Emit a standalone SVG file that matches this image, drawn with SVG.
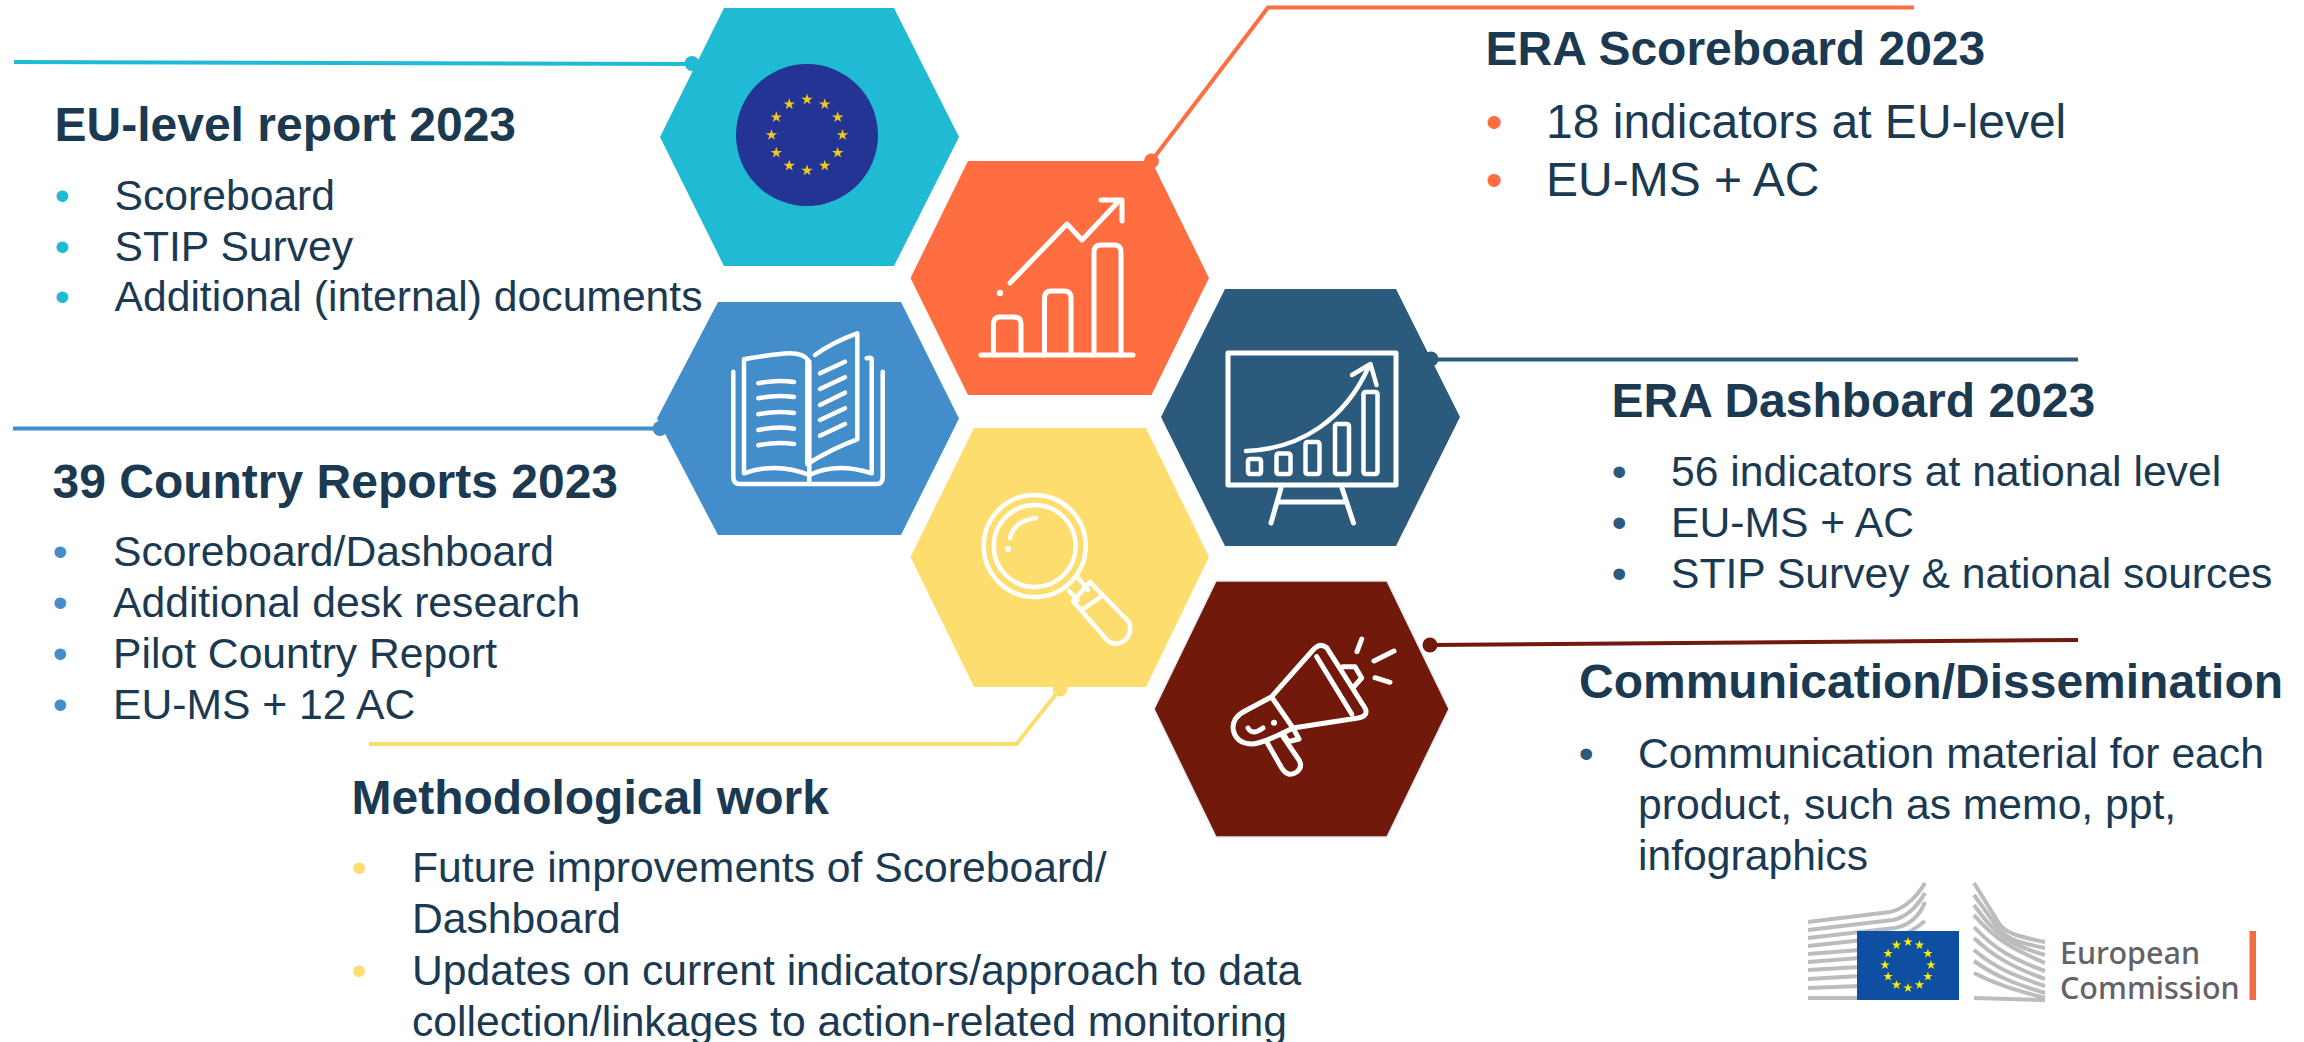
<svg xmlns="http://www.w3.org/2000/svg" width="2304" height="1042" viewBox="0 0 2304 1042">
<style>
text{font-family:"Liberation Sans",Arial,sans-serif;fill:#1b3a52}
.h{font-size:48px;font-weight:700}
.t{font-size:42.67px}
.l{font-size:48px}
.ln{fill:none;stroke-width:4}
.ic{fill:none;stroke:#fff;stroke-width:5;stroke-linecap:round;stroke-linejoin:round}
.ic2{fill:none;stroke:#fff;stroke-width:4.5;stroke-linecap:round;stroke-linejoin:round}
.w{fill:#fff}
.teal{fill:#20bad4}.orange{fill:#ff6e40}.navy{fill:#2b5a7d}.blue{fill:#448dcb}.yellow{fill:#fedd6f}.maroon{fill:#711a0b}
.sgrey{fill:none;stroke:#bbbcbe;stroke-width:4}
.ec{font-family:"Noto Sans","Open Sans",sans-serif;fill:#626366;font-size:30.5px;font-weight:500}
</style>
<defs>
<polygon id="s" points="0,-6 1.35,-1.86 5.71,-1.85 2.19,.71 3.53,4.85 0,2.3 -3.53,4.85 -2.19,.71 -5.71,-1.85 -1.35,-1.86"/>
<polygon id="s2" points="0,-5 1.12,-1.55 4.76,-1.54 1.82,.59 2.94,4.04 0,1.92 -2.94,4.04 -1.82,.59 -4.76,-1.54 -1.12,-1.55"/>
</defs>
<rect width="2304" height="1042" fill="#fff"/>

<g id="node-eu-report">
<polygon class="teal" points="724,8 894,8 959,137 894,266 724,266 660,137"/>
<circle cx="807" cy="135" r="71" fill="#233494"/>
<g fill="#f3c81c">
<use href="#s" x="807" y="99.5"/><use href="#s" x="824.75" y="104.3"/><use href="#s" x="837.7" y="117.25"/><use href="#s" x="842.5" y="135"/><use href="#s" x="837.7" y="152.75"/><use href="#s" x="824.75" y="165.7"/><use href="#s" x="807" y="170.5"/><use href="#s" x="789.25" y="165.7"/><use href="#s" x="776.3" y="152.75"/><use href="#s" x="771.5" y="135"/><use href="#s" x="776.3" y="117.25"/><use href="#s" x="789.25" y="104.3"/>
</g>
<text class="h" x="54.5" y="141">EU-level report 2023</text>
<text class="t teal" x="54.7" y="209.5">•</text><text class="t" x="114.5" y="209.5">Scoreboard</text>
<text class="t teal" x="54.7" y="260.5">•</text><text class="t" x="114.5" y="260.5">STIP Survey</text>
<text class="t teal" x="54.7" y="311">•</text><text class="t" x="114.5" y="311">Additional (internal) documents</text>
</g>

<g id="node-scoreboard">
<polygon class="orange" points="968,161 1151.5,161 1209,278 1151.5,395 968,395 910.5,278"/>
<g class="ic">
<path d="M981,355H1133"/>
<path d="M993.5,355V324Q993.5,317 1000,317H1014Q1021,317 1021,324V355"/>
<path d="M1044.5,355V298Q1044.5,291 1051,291H1064Q1071,291 1071,298V355"/>
<path d="M1094,355V252Q1094,245 1101,245H1114Q1121,245 1121,252V355"/>
<path d="M1010,283L1067,224L1082,240L1119,201"/>
<path d="M1101,200H1122V221"/>
</g>
<circle class="w" cx="1000" cy="293" r="3.2"/>
<text class="h" x="1485.5" y="65">ERA Scoreboard 2023</text>
<text class="l orange" x="1485.7" y="137.7">•</text><text class="l" x="1546" y="137.7">18 indicators at EU-level</text>
<text class="l orange" x="1485.7" y="195.5">•</text><text class="l" x="1546" y="195.5">EU-MS + AC</text>
</g>

<g id="node-dashboard">
<polygon class="navy" points="1225,289 1396,289 1460,417 1396,546 1225,546 1161,417"/>
<g class="ic">
<rect x="1228" y="353" width="168" height="132"/>
<path d="M1281,488L1271,523M1342,488L1353.5,523M1278,502H1345"/>
</g>
<g class="ic2">
<rect x="1248" y="459" width="13" height="15" rx="2"/>
<rect x="1276.5" y="453.5" width="14" height="20.5" rx="2"/>
<rect x="1305.5" y="442" width="14" height="32" rx="2"/>
<rect x="1335" y="424" width="14" height="50" rx="2"/>
<rect x="1363.5" y="392" width="14" height="82" rx="2"/>
<path d="M1246,451C1300,449 1345,420 1369,366"/>
<path d="M1352,375L1370.5,364L1376.5,385"/>
</g>
<text class="h" x="1611.5" y="417">ERA Dashboard 2023</text>
<text class="t navy" x="1611.7" y="485.7">•</text><text class="t" x="1671" y="485.7">56 indicators at national level</text>
<text class="t navy" x="1611.7" y="536.7">•</text><text class="t" x="1671" y="536.7">EU-MS + AC</text>
<text class="t navy" x="1611.7" y="587.7">•</text><text class="t" x="1671" y="587.7">STIP Survey &amp; national sources</text>
</g>

<g id="node-country-reports">
<polygon class="blue" points="718,302 901,302 959,418.5 901,535 718,535 657,418.5"/>
<g class="ic2">
<path d="M733.3,371.7V476.7Q733.3,484 740,484H876.7Q882.7,484 882.7,476.7V371.7"/>
<path d="M744,473.3V359.3Q762,356 780,354Q803,351 809.3,361.7V475M744,473.3Q776.7,461.7 809.3,475Q836.7,461.7 871.7,473.3V359.3Q871.7,357 866.7,358.3"/>
<path d="M809.3,475V484"/>
<path d="M815,355Q833.3,341.7 857.3,333.3V439.3Q833,448 807.3,464V361"/>
<path d="M758.3,383.3Q776.7,379.3 794,382M758.3,398.3Q776.7,394.3 794,397M758.3,414.3Q776.7,410.3 794,413M758.3,430Q776.7,426 794,428.7M758.3,445.3Q776.7,441.3 794,444"/>
<path d="M820,373.3L845,361.7M820,389L845,377.3M820,405L845,392.7M820,420L845,408.3M820,435.7L845,424"/>
</g>
<text class="h" x="52.5" y="498">39 Country Reports 2023</text>
<text class="t blue" x="52.7" y="566">•</text><text class="t" x="113" y="566">Scoreboard/Dashboard</text>
<text class="t blue" x="52.7" y="617">•</text><text class="t" x="113" y="617">Additional desk research</text>
<text class="t blue" x="52.7" y="668">•</text><text class="t" x="113" y="668">Pilot Country Report</text>
<text class="t blue" x="52.7" y="719">•</text><text class="t" x="113" y="719">EU-MS + 12 AC</text>
</g>

<g id="node-methodology">
<polygon class="yellow" points="974,428 1146,428 1209,557 1146,687 974,687 910.5,557"/>
<g class="ic2">
<circle cx="1034.7" cy="546" r="51"/>
<circle cx="1034.7" cy="546" r="41"/>
<path d="M1010,538Q1014,521 1036,518"/>
<path d="M1079,579L1088,590M1069,591L1078,600"/>
<path d="M1090,582L1129,622Q1133,634 1124,641Q1115,647 1107,640L1073,601Z"/>
<path d="M1082,610L1100.5,597"/>
</g>
<circle class="w" cx="1008" cy="549" r="3"/>
<text class="h" x="351.5" y="814">Methodological work</text>
<text class="t yellow" x="351.7" y="881.7">•</text><text class="t" x="412" y="881.7">Future improvements of Scoreboard/</text>
<text class="t" x="412" y="933">Dashboard</text>
<text class="t yellow" x="351.7" y="985">•</text><text class="t" x="412" y="985">Updates on current indicators/approach to data</text>
<text class="t" x="412" y="1036">collection/linkages to action-related monitoring</text>
</g>

<g id="node-communication">
<polygon class="maroon" stroke="#e4e9f5" stroke-width="1.5" points="1216,581 1387,581 1449,709 1387,837 1216,837 1154,709"/>
<g class="ic">
<path d="M1245,711L1271.7,696.7L1313,650Q1320,642 1326.7,647.7L1365,708Q1369,716 1358,718L1293,728"/>
<path d="M1316.7,656.7L1351.7,714"/>
<path d="M1342.7,666.7H1355L1361.7,678L1354,686.7"/>
<path d="M1245,711Q1233,717 1233,728Q1235,744 1253,744Q1262,743 1283,733"/>
<path d="M1273,699L1293,728L1299,739L1288,741.7L1283,733L1293,728"/>
<path d="M1266.7,741.7L1281.7,768Q1288,778 1296.7,772Q1303,767 1299,760L1283,736.7"/>
<path d="M1248,728Q1252,736 1263,728"/>
<path d="M1361.7,639L1357,651.7M1394,651L1374,661M1375,677.7L1390,682.3"/>
</g>
<circle class="w" cx="1274" cy="722.7" r="3"/>
<text class="h" x="1579" y="698">Communication/Dissemination</text>
<text class="t navy" x="1578.7" y="768">•</text><text class="t" x="1638" y="768">Communication material for each</text>
<text class="t" x="1638" y="819">product, such as memo, ppt,</text>
<text class="t" x="1638" y="870">infographics</text>
</g>

<g id="connectors">
<path class="ln" stroke="#20bad4" d="M14,62L692,64"/><circle class="teal" cx="692" cy="63.5" r="7.5"/>
<path class="ln" stroke="#ff6e40" d="M1151.5,161L1268,7.5H1914"/><circle class="orange" cx="1151.5" cy="161" r="7.5"/>
<path class="ln" stroke="#2b5a7d" d="M1431,359.5H2078"/><circle class="navy" cx="1431" cy="359" r="7.5"/>
<path class="ln" stroke="#448dcb" d="M13,428.5H660"/><circle class="blue" cx="660" cy="428.5" r="7.5"/>
<path class="ln" stroke="#fedd6f" d="M1060,689L1016.5,744H369"/><circle class="yellow" cx="1060" cy="689" r="7.5"/>
<path class="ln" stroke="#711a0b" d="M1430,645L2078,640"/><circle class="maroon" cx="1430" cy="645" r="7.5"/>
</g>

<g id="logo">
<path class="sgrey" d="M1808,922L1890,912C1905,909 1918,895 1925,883"/>
<path class="sgrey" d="M1808,930L1893,920C1908,917 1918,905 1925,893"/>
<path class="sgrey" d="M1808,938L1895,928C1910,925 1920,915 1925,902"/>
<path class="sgrey" d="M1808,946L1900,936C1912,932 1920,925 1925,921"/>
<path class="sgrey" d="M1808,954L1860,950M1808,962L1860,958M1808,970L1860,967M1808,979L1860,976M1808,988L1860,986M1808,998L1860,998"/>
<path class="sgrey" d="M1974,883L2000,925C2008,934 2020,937 2045,942"/>
<path class="sgrey" d="M1974,895L1998,928C2008,940 2020,943 2045,948"/>
<path class="sgrey" d="M1974,905C1995,935 2010,945 2045,955"/>
<path class="sgrey" d="M1974,915C1995,940 2015,950 2045,963"/>
<path class="sgrey" d="M1974,927C1995,950 2015,960 2045,971"/>
<path class="sgrey" d="M1974,938C1995,958 2015,968 2045,979"/>
<path class="sgrey" d="M1974,950C1995,968 2015,976 2045,986"/>
<path class="sgrey" d="M1974,961C1995,976 2015,984 2045,993"/>
<path class="sgrey" d="M1974,973C1995,984 2015,990 2045,998"/>
<path class="sgrey" d="M1974,998L2045,1000"/>
<rect x="1857" y="931" width="102" height="69" fill="#0f4fa2"/>
<g fill="#ffed00">
<use href="#s2" x="1908" y="942"/><use href="#s2" x="1919.5" y="945.1"/><use href="#s2" x="1927.9" y="953.5"/><use href="#s2" x="1931" y="965"/><use href="#s2" x="1927.9" y="976.5"/><use href="#s2" x="1919.5" y="984.9"/><use href="#s2" x="1908" y="988"/><use href="#s2" x="1896.5" y="984.9"/><use href="#s2" x="1888.1" y="976.5"/><use href="#s2" x="1885" y="965"/><use href="#s2" x="1888.1" y="953.5"/><use href="#s2" x="1896.5" y="945.1"/>
</g>
<text class="ec" x="2060" y="964">European</text>
<text class="ec" x="2060" y="999">Commission</text>
<rect x="2249.5" y="931" width="6.5" height="69" fill="#f26b43"/>
</g>
</svg>
